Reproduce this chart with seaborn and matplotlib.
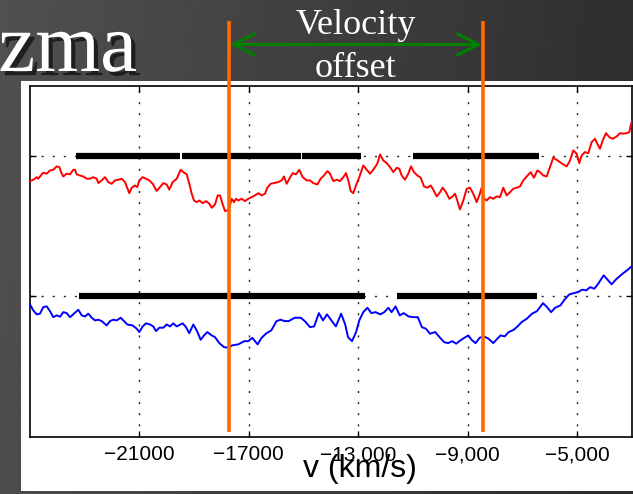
import matplotlib
matplotlib.use("Agg")

import matplotlib.pyplot as plt
import matplotlib.patheffects as pe
from matplotlib.patches import Rectangle
import numpy as np
import seaborn as sns

# --------------------------------------------------------------------------- #
# Data (velocity in km/s, normalised flux; red spectrum offset by +1)
# --------------------------------------------------------------------------- #
red_v = [
    -25000, -24879, -24755, -24697, -24572, -24514, -24389, -24269, -24148, -24024,
    -23929, -23841, -23782, -23658, -23537, -23417, -23355, -23293, -23172, -23051,
    -22927, -22806, -22686, -22561, -22503, -22379, -22258, -22137, -22013, -21892,
    -21772, -21647, -21527, -21369, -21282, -21161, -21077, -21004, -20879, -20759,
    -20638, -20514, -20368, -20247, -20126, -20002, -19907, -19783, -19636, -19490,
    -19395, -19271, -19175, -19088, -19004, -18905, -18810, -18686, -18565, -18444,
    -18356, -18236, -18137, -18053, -17954, -17870, -17786, -17713, -17625, -17541,
    -17468, -17384, -17260, -17139, -17018, -16894, -16773, -16653, -16528, -16408,
    -16324, -16199, -16079, -15921, -15797, -15713, -15614, -15519, -15395, -15274,
    -15154, -15029, -14883, -14763, -14642, -14495, -14371, -14251, -14130, -14031,
    -13910, -13786, -13666, -13545, -13446, -13362, -13274, -13179, -13081, -12960,
    -12814, -12689, -12569, -12448, -12302, -12203, -12082, -11958, -11837, -11717,
    -11592, -11497, -11409, -11289, -11168, -11069, -10960, -10839, -10715, -10594,
    -10473, -10349, -10254, -10130, -10009, -9911, -9790, -9669, -9545, -9461,
    -9377, -9278, -9157, -9033, -8912, -8792, -8668, -8573, -8485, -8401,
    -8302, -8181, -8061, -7937, -7816, -7695, -7571, -7450, -7329, -7205,
    -7084, -6964, -6840, -6693, -6573, -6452, -6353, -6232, -6108, -5987,
    -5867, -5743, -5622, -5501, -5377, -5256, -5136, -5012, -4917, -4829,
    -4708, -4587, -4463, -4342, -4258, -4159, -4060, -3940, -3819, -3695,
    -3549, -3428, -3308, -3183, -3088, -3037, -2990,
]
red_flux = [
    0.822, 0.832, 0.850, 0.839, 0.870, 0.882, 0.875, 0.898, 0.903, 0.927,
    0.922, 0.875, 0.855, 0.875, 0.870, 0.903, 0.903, 0.870, 0.862, 0.855,
    0.839, 0.839, 0.850, 0.839, 0.808, 0.827, 0.850, 0.815, 0.803, 0.827,
    0.832, 0.839, 0.815, 0.736, 0.775, 0.791, 0.779, 0.827, 0.850, 0.839,
    0.827, 0.803, 0.752, 0.779, 0.808, 0.798, 0.761, 0.815, 0.839, 0.903,
    0.886, 0.870, 0.803, 0.732, 0.684, 0.672, 0.684, 0.665, 0.679, 0.661,
    0.632, 0.656, 0.720, 0.720, 0.656, 0.608, 0.613, 0.632, 0.696, 0.672,
    0.696, 0.684, 0.696, 0.679, 0.696, 0.708, 0.720, 0.736, 0.720, 0.732,
    0.775, 0.803, 0.808, 0.815, 0.827, 0.855, 0.803, 0.839, 0.879, 0.870,
    0.903, 0.850, 0.827, 0.827, 0.808, 0.798, 0.839, 0.862, 0.893, 0.875,
    0.822, 0.832, 0.822, 0.850, 0.879, 0.827, 0.751, 0.736, 0.791, 0.850,
    0.934, 0.903, 0.875, 0.903, 0.946, 1.012, 0.969, 0.950, 0.922, 0.886,
    0.917, 0.910, 0.862, 0.832, 0.875, 0.927, 0.886, 0.862, 0.846, 0.784,
    0.775, 0.791, 0.761, 0.713, 0.743, 0.775, 0.743, 0.696, 0.713, 0.732,
    0.684, 0.620, 0.684, 0.768, 0.775, 0.732, 0.672, 0.720, 0.775, 0.696,
    0.684, 0.708, 0.696, 0.713, 0.708, 0.775, 0.720, 0.743, 0.768, 0.775,
    0.784, 0.827, 0.855, 0.886, 0.846, 0.898, 0.886, 0.862, 0.855, 0.922,
    0.989, 0.974, 0.957, 0.941, 0.927, 0.969, 1.041, 1.017, 0.950, 1.005,
    1.029, 1.021, 1.100, 1.124, 1.088, 1.053, 1.112, 1.164, 1.135, 1.124,
    1.140, 1.164, 1.160, 1.164, 1.171, 1.219, 1.249,
]

blue_v = [
    -25000, -24879, -24755, -24634, -24514, -24389, -24269, -24148, -24024, -23903,
    -23782, -23658, -23537, -23391, -23234, -23110, -22989, -22868, -22744, -22623,
    -22503, -22378, -22196, -22075, -21954, -21830, -21684, -21563, -21442, -21245,
    -21099, -21004, -20879, -20759, -20613, -20492, -20393, -20272, -20126, -20002,
    -19881, -19761, -19636, -19417, -19296, -19176, -19029, -18905, -18759, -18638,
    -18517, -18356, -18236, -18079, -17907, -17761, -17611, -17388, -17168, -17022,
    -16872, -16678, -16532, -16353, -16177, -15987, -15837, -15691, -15541, -15322,
    -15099, -14953, -14762, -14612, -14437, -14287, -14141, -13962, -13816, -13625,
    -13475, -13373, -13227, -13077, -12960, -12814, -12664, -12517, -12368, -12192,
    -12046, -11896, -11779, -11633, -11483, -11336, -11157, -10967, -10821, -10671,
    -10525, -10375, -10185, -10009, -9859, -9713, -9563, -9417, -9271, -9120,
    -8974, -8857, -8708, -8562, -8412, -8236, -8061, -7911, -7794, -7647,
    -7497, -7322, -7172, -7026, -6836, -6642, -6463, -6243, -6097, -5947,
    -5801, -5607, -5461, -5285, -5106, -4960, -4810, -4664, -4518, -4368,
    -4222, -4027, -3881, -3735, -3585, -3366, -3143, -2990,
]
blue_flux = [
    -0.057, -0.100, -0.128, -0.123, -0.076, -0.071, -0.105, -0.148, -0.135, -0.145,
    -0.112, -0.119, -0.148, -0.123, -0.095, -0.135, -0.143, -0.123, -0.152, -0.171,
    -0.166, -0.176, -0.207, -0.176, -0.166, -0.171, -0.152, -0.176, -0.200, -0.207,
    -0.230, -0.254, -0.214, -0.192, -0.200, -0.214, -0.247, -0.223, -0.223, -0.200,
    -0.214, -0.192, -0.214, -0.192, -0.219, -0.262, -0.200, -0.242, -0.309, -0.278,
    -0.254, -0.278, -0.290, -0.333, -0.361, -0.366, -0.349, -0.342, -0.319, -0.319,
    -0.295, -0.342, -0.295, -0.262, -0.242, -0.176, -0.166, -0.176, -0.176, -0.152,
    -0.152, -0.176, -0.219, -0.214, -0.119, -0.171, -0.128, -0.176, -0.214, -0.123,
    -0.200, -0.290, -0.319, -0.254, -0.171, -0.112, -0.081, -0.119, -0.112, -0.128,
    -0.112, -0.081, -0.112, -0.071, -0.135, -0.119, -0.143, -0.148, -0.148, -0.219,
    -0.230, -0.266, -0.254, -0.294, -0.326, -0.333, -0.319, -0.337, -0.314, -0.295,
    -0.278, -0.309, -0.333, -0.295, -0.285, -0.301, -0.333, -0.301, -0.278, -0.285,
    -0.254, -0.239, -0.214, -0.183, -0.159, -0.123, -0.105, -0.048, -0.076, -0.112,
    -0.081, -0.064, -0.024, 0.014, 0.024, 0.031, 0.048, 0.043, 0.066, 0.055,
    0.091, 0.150, 0.119, 0.086, 0.119, 0.157, 0.190, 0.217,
]

# absorption-window bars drawn at each spectrum's baseline level
red_bar_start = [-23320, -19430, -15050, -10980]
red_bar_end = [-19530, -15100, -12900, -6390]
blue_bar_start = [-23200, -11570]
blue_bar_end = [-12750, -6450]

# the two marked absorption minima (velocity offset between them)
marker_v = [-17740, -8430]

tick_v = [-21000, -17000, -13000, -9000, -5000]
tick_labels = ["\u221221000", "\u221217000", "\u221213,000", "\u22129,000", "\u22125,000"]

# --------------------------------------------------------------------------- #
# Style
# --------------------------------------------------------------------------- #
sns.set_theme(style="ticks")
plt.rcParams["font.family"] = ["Liberation Sans", "DejaVu Sans"]

ORANGE = "#ff6a00"
GREEN = "#008000"
SERIF = ["Liberation Serif", "DejaVu Serif"]

fig = plt.figure(figsize=(6.33, 4.94), dpi=100)

# dark slide background, lighter on the left
bg = fig.add_axes([0, 0, 1, 1], zorder=-10)
xf = np.linspace(0, 1, 256)
yf = np.linspace(0, 1, 64)[:, None]
shade = 0.30 - 0.13 * xf[None, :] + 0.015 * yf
bg.imshow(shade, cmap="gray", vmin=0, vmax=1, aspect="auto",
          extent=[0, 1, 0, 1], origin="lower")
bg.set_axis_off()

# white panel holding the plot
fig.patches.append(Rectangle((21 / 633, 3 / 494), 1.0, 410 / 494,
                             transform=fig.transFigure, facecolor="white",
                             edgecolor="none", zorder=-5))

# slide title fragment
fig.text(137 / 633, 1 - 71 / 494, "zma", ha="right", va="baseline",
         fontsize=60, color="white", family=SERIF,
         path_effects=[pe.withSimplePatchShadow(offset=(3, -3),
                                                shadow_rgbFace="black",
                                                alpha=0.6)])

for label, base in (("Velocity", 34), ("offset", 77)):
    fig.text(356 / 633, 1 - base / 494, label, ha="center", va="baseline",
             fontsize=26, color="white", family=SERIF)

ax = fig.add_axes([30 / 633, 1 - 436.7 / 494, 601.7 / 633, 350.7 / 494])
ax.set_facecolor("white")

sns.lineplot(x=red_v, y=red_flux, ax=ax, color="red", lw=1.4,
             sort=False, estimator=None, zorder=3)
sns.lineplot(x=blue_v, y=blue_flux, ax=ax, color="blue", lw=1.4,
             sort=False, estimator=None, zorder=3)

ax.hlines([1] * len(red_bar_start), red_bar_start, red_bar_end,
          color="black", lw=4.5, zorder=4)
ax.hlines([0] * len(blue_bar_start), blue_bar_start, blue_bar_end,
          color="black", lw=4.5, zorder=4)

ax.set_xlim(-25000, -3000)
ax.set_ylim(-1, 1.5)
ax.set_xticks(tick_v)
ax.set_xticklabels(tick_labels, fontsize=15)
ax.set_yticks([0, 1])
ax.set_yticklabels([])
ax.tick_params(direction="in", length=4, width=1, colors="black",
               top=True, right=True, pad=6)

ax.grid(True, color="black", lw=1, linestyle=(0, (1.5, 6.5)), alpha=0.85)
ax.set_axisbelow(True)
for sp in ax.spines.values():
    sp.set_color("black")
    sp.set_linewidth(1.2)

ax.set_xlabel("v (km/s)", fontsize=23, color="black")
ax.xaxis.set_label_coords(0.548, -0.049)
ax.set_ylabel("")

# orange markers at the two minima, running up into the slide title area
ax.vlines(marker_v, -0.97, 1.96, color=ORANGE, lw=2.6, zorder=6, clip_on=False)

# velocity-offset arrow between the two markers
ax.annotate("", xy=(marker_v[0] + 50, 1.796), xytext=(marker_v[1] - 50, 1.796),
            arrowprops=dict(arrowstyle="<->,head_length=1.0,head_width=0.5",
                            color=GREEN, lw=2.2, mutation_scale=15,
                            shrinkA=0, shrinkB=0),
            annotation_clip=False, zorder=7)

fig.savefig("out.png", dpi=100)
